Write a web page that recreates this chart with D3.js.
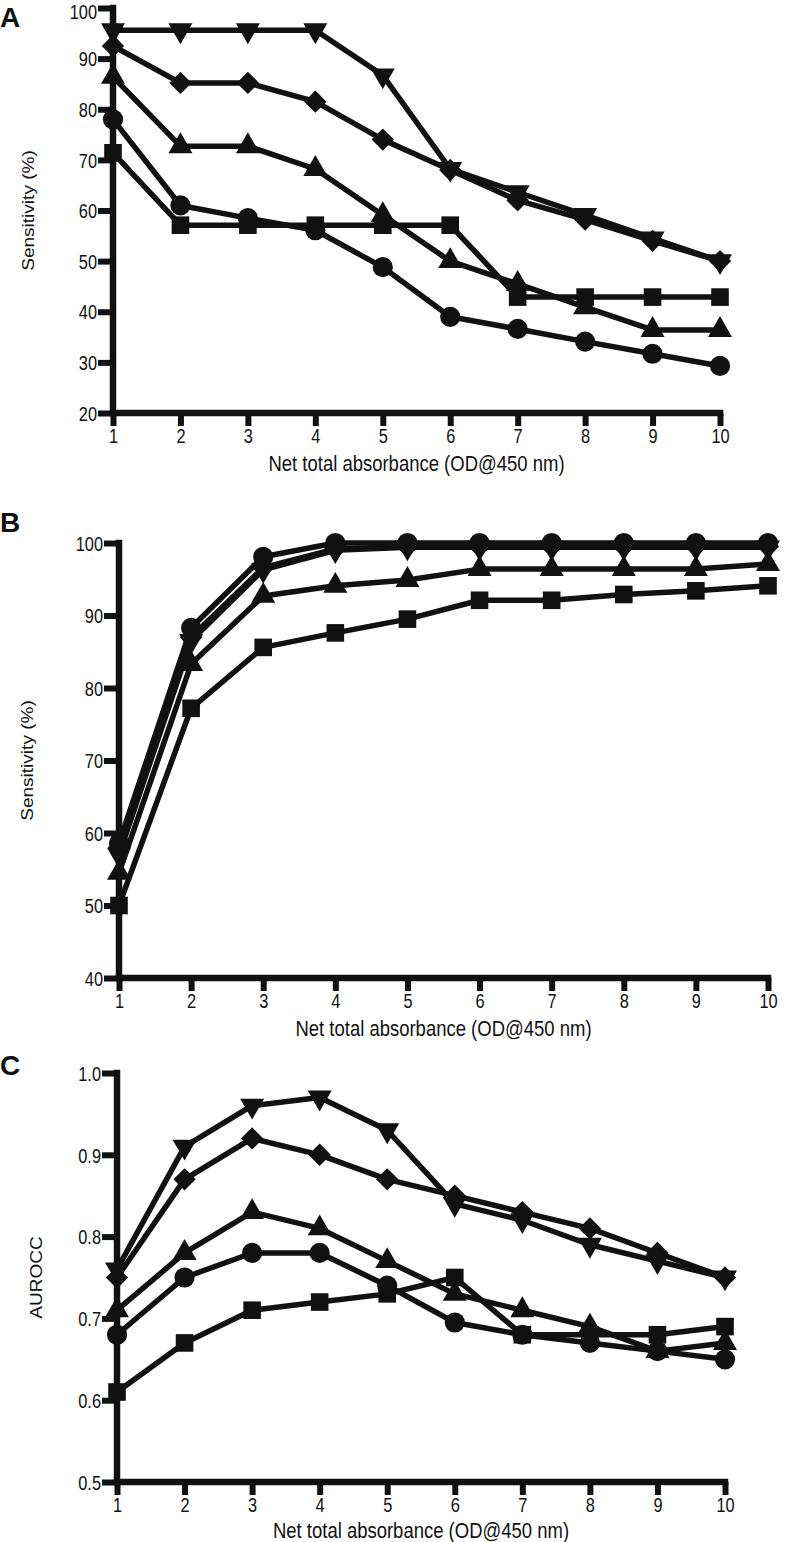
<!DOCTYPE html>
<html><head><meta charset="utf-8">
<script src="https://cdn.jsdelivr.net/npm/d3@7"></script>
<style>html,body{margin:0;padding:0;background:#fff;}svg{display:block;}</style>
</head><body>
<script>
// ---- data ----
const xValues = [1,2,3,4,5,6,7,8,9,10];
const xTickLabels = ["1","2","3","4","5","6","7","8","9","10"];
const xTitle = "Net total absorbance (OD@450 nm)";

// Panel A: Sensitivity (%)
const aTicks = [20,30,40,50,60,70,80,90,100];
const aDown    = [95.6,95.6,95.6,95.6,86.7,68.2,63.6,59.1,54.5,50.0];
const aDiamond = [92.5,85.2,85.2,81.5,74.0,68.0,62.0,58.2,54.0,50.0];
const aUp      = [86.4,72.7,72.7,68.2,59.1,50.0,45.5,40.9,36.4,36.4];
const aCircle  = [78.0,61.0,58.5,56.1,48.8,39.0,36.6,34.1,31.7,29.3];
const aSquare  = [71.4,57.1,57.1,57.1,57.1,57.1,42.9,42.9,42.9,42.9];

// Panel B: Sensitivity (%)
const bTicks = [40,50,60,70,80,90,100];
const bCircle  = [58.6,88.3,98.1,100,100,100,100,100,100,100];
const bDown    = [57.0,86.5,96.3,99.0,99.4,99.4,99.4,99.4,99.4,99.4];
const bDiamond = [58.0,87.0,96.6,99.2,99.5,99.5,99.5,99.5,99.5,99.5];
const bUp      = [54.5,83.3,92.7,94.1,94.9,96.4,96.4,96.4,96.4,97.1];
const bSquare  = [50.0,77.2,85.6,87.6,89.5,92.1,92.1,92.9,93.4,94.1];

// Panel C: AUROCC
const cTicks = [0.5,0.6,0.7,0.8,0.9,1.0];
const cDown    = [0.76,0.91,0.96,0.97,0.93,0.84,0.82,0.79,0.77,0.75];
const cDiamond = [0.75,0.87,0.92,0.90,0.87,0.85,0.83,0.81,0.78,0.75];
const cUp      = [0.71,0.78,0.83,0.81,0.77,0.73,0.71,0.69,0.66,0.67];
const cCircle  = [0.68,0.75,0.78,0.78,0.74,0.695,0.68,0.67,0.66,0.65];
const cSquare  = [0.61,0.67,0.71,0.72,0.73,0.75,0.68,0.68,0.68,0.69];

// ---- drawing ----
const INK = "#111";
const FONT = "'Liberation Sans', Arial, Helvetica, sans-serif";
const svg = d3.select("body").append("svg").attr("width",786).attr("height",1542);

// squeeze / stretch text along its baseline (the source figure is stretched vertically)
function fit(sel, k){
  sel.each(function(){
    const w = this.getComputedTextLength();
    d3.select(this).attr("textLength", w*k).attr("lengthAdjust","spacingAndGlyphs");
  });
}

const symbols = {
  circle:  {type:d3.symbolCircle,   size:320, rot:0},
  square:  {type:d3.symbolSquare,   size:310, rot:0},
  up:      {type:d3.symbolTriangle, size:250, rot:0},
  down:    {type:d3.symbolTriangle, size:250, rot:180},
  diamond: {type:d3.symbolSquare,   size:250, rot:45}
};

function panel(cfg){
  const g = svg.append("g");
  const x = d3.scaleLinear().domain([1,10]).range(cfg.xr);
  const y = d3.scaleLinear().domain(cfg.yd).range(cfg.yr);

  g.append("text").attr("x",0).attr("y",cfg.letterY).text(cfg.letter)
    .attr("font-family",FONT).attr("font-weight","bold").attr("font-size",28).attr("fill",INK);

  const xa = g.append("g").attr("transform",`translate(0,${cfg.yr[0]})`)
    .call(d3.axisBottom(x).tickValues(xValues).tickFormat((d,i)=>xTickLabels[i]).tickSize(13).tickPadding(3));
  const ya = g.append("g").attr("transform",`translate(${cfg.xr[0]},0)`)
    .call(d3.axisLeft(y).tickValues(cfg.ticks).tickFormat(cfg.fmt).tickSize(15).tickPadding(1));
  [xa,ya].forEach(a=>{
    a.select(".domain").attr("stroke",INK).attr("stroke-width",6.5).attr("stroke-linecap","square");
    a.selectAll(".tick line").attr("stroke",INK).attr("stroke-width",6);
    a.selectAll(".tick text").attr("font-family",FONT).attr("font-size",19.5).attr("fill",INK);
    fit(a.selectAll(".tick text"), 0.84);
  });
  ya.selectAll(".tick text").attr("dy","0.37em");
  // keep a label that would touch the top edge of the page fully inside it
  ya.selectAll(".tick").each(function(d){
    if (y(d) < 12) d3.select(this).select("text").attr("dy","0.52em");
  });
  xa.select(".domain").attr("d",`M${cfg.xr[0]},0H${cfg.xr[1]}`);
  ya.select(".domain").attr("d",`M0,${cfg.yr[0]}V${cfg.yr[1]}`);

  const xt = g.append("text").attr("x",(cfg.xr[0]+cfg.xr[1])/2).attr("y",cfg.xtY)
    .attr("text-anchor","middle").attr("font-family",FONT).attr("font-size",22).attr("fill",INK).text(xTitle);
  fit(xt, 0.84);
  const yt = g.append("text").attr("transform",`translate(${cfg.ytX},${(cfg.yr[0]+cfg.yr[1])/2}) rotate(-90)`)
    .attr("text-anchor","middle").attr("font-family",FONT).attr("font-size",16).attr("fill",INK).text(cfg.yTitle);
  fit(yt, 1.19);

  const line = d3.line().x((d,i)=>x(xValues[i])).y(d=>y(d));
  cfg.series.forEach(s=>{
    g.append("path").attr("d",line(s.v)).attr("fill","none").attr("stroke",INK)
      .attr("stroke-width",5.5).attr("stroke-linejoin","round");
  });
  cfg.series.forEach(s=>{
    const sym = symbols[s.m];
    const gen = d3.symbol().type(sym.type).size(sym.size);
    g.selectAll(null).data(s.v).join("path")
      .attr("d",gen)
      .attr("transform",(d,i)=>`translate(${x(xValues[i])},${y(d)}) rotate(${sym.rot})`)
      .attr("fill",INK);
  });
}

panel({letter:"A", letterY:27, xr:[113,720], yr:[413,8], yd:[20,100], ticks:aTicks, fmt:d3.format("d"),
  yTitle:"Sensitivity (%)", ytX:34, xtY:471,
  series:[{v:aSquare,m:"square"},{v:aCircle,m:"circle"},{v:aUp,m:"up"},{v:aDiamond,m:"diamond"},{v:aDown,m:"down"}]});

panel({letter:"B", letterY:532, xr:[119,768], yr:[978,543], yd:[40,100], ticks:bTicks, fmt:d3.format("d"),
  yTitle:"Sensitivity (%)", ytX:33, xtY:1036,
  series:[{v:bSquare,m:"square"},{v:bUp,m:"up"},{v:bDiamond,m:"diamond"},{v:bDown,m:"down"},{v:bCircle,m:"circle"}]});

panel({letter:"C", letterY:1075, xr:[117,725], yr:[1482,1073], yd:[0.5,1.0], ticks:cTicks, fmt:d3.format(".1f"),
  yTitle:"AUROCC", ytX:42, xtY:1538,
  series:[{v:cSquare,m:"square"},{v:cCircle,m:"circle"},{v:cUp,m:"up"},{v:cDiamond,m:"diamond"},{v:cDown,m:"down"}]});
</script>
</body></html>
